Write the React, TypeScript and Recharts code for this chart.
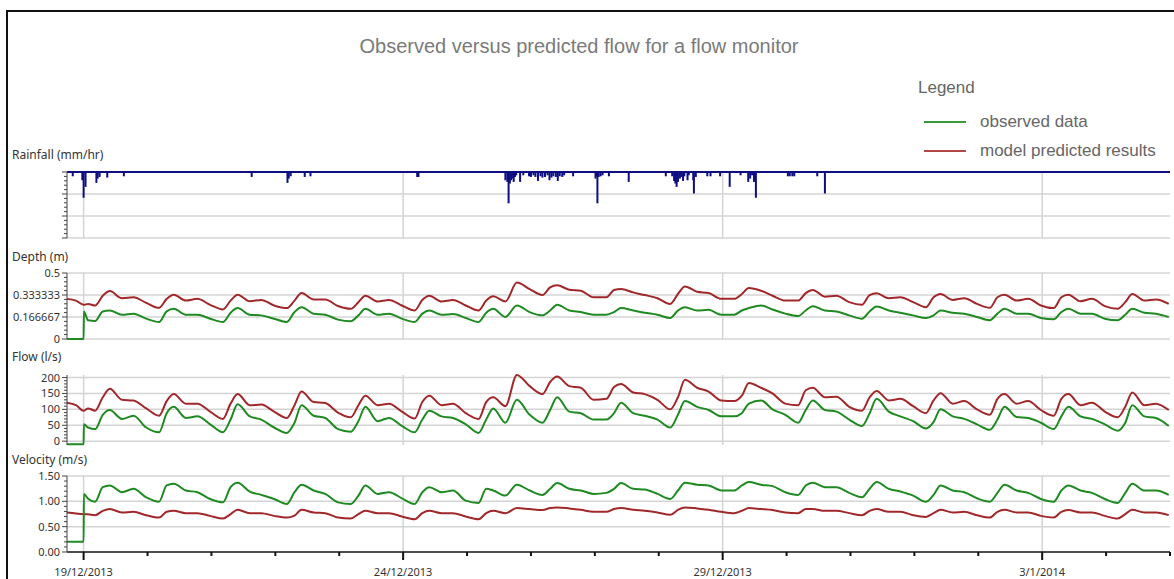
import { Bar, CartesianGrid, ComposedChart, Line, LineChart, ReferenceLine, XAxis, YAxis } from "recharts";

// time in days from 19/12/2013 00:00
const times = [
  -0.26, -0.12, 0, 0.004, 0.07,
  0.18, 0.3, 0.41, 0.6, 0.78, 0.98,
  1.18, 1.3, 1.41, 1.6, 1.78, 1.98,
  2.18, 2.3, 2.41, 2.6, 2.78, 2.98,
  3.18, 3.3, 3.41, 3.6, 3.78, 3.98,
  4.18, 4.3, 4.41, 4.6, 4.78, 4.98,
  5.18, 5.3, 5.41, 5.6, 5.78, 5.98,
  6.18, 6.3, 6.41, 6.6, 6.78, 6.98,
  7.18, 7.3, 7.41, 7.6, 7.78, 7.98,
  8.18, 8.3, 8.41, 8.6, 8.78, 8.98,
  9.18, 9.3, 9.41, 9.6, 9.78, 9.98,
  10.18, 10.3, 10.41, 10.6, 10.78, 10.98,
  11.18, 11.3, 11.41, 11.6, 11.78, 11.98,
  12.18, 12.3, 12.41, 12.6, 12.78, 12.98,
  13.18, 13.3, 13.41, 13.6, 13.78, 13.98,
  14.18, 14.3, 14.41, 14.6, 14.78, 14.98,
  15.18, 15.3, 15.41, 15.6, 15.78, 15.98,
  16.18, 16.3, 16.41, 16.6, 16.78, 16.98,
];

const depthPredicted = [
  0.304, 0.291, 0.259, 0.259, 0.266,
  0.254, 0.328, 0.363, 0.309, 0.316, 0.274,
  0.236, 0.304, 0.336, 0.291, 0.304, 0.259,
  0.224, 0.291, 0.336, 0.286, 0.296, 0.254,
  0.234, 0.291, 0.348, 0.299, 0.299, 0.25,
  0.229, 0.279, 0.328, 0.284, 0.296, 0.254,
  0.216, 0.296, 0.328, 0.284, 0.296, 0.254,
  0.216, 0.291, 0.323, 0.284, 0.428, 0.378,
  0.333, 0.391, 0.408, 0.373, 0.366, 0.316,
  0.316, 0.371, 0.378, 0.353, 0.333, 0.309,
  0.266, 0.341, 0.398, 0.358, 0.348, 0.304,
  0.304, 0.341, 0.386, 0.366, 0.328, 0.291,
  0.291, 0.348, 0.371, 0.321, 0.328, 0.279,
  0.259, 0.333, 0.346, 0.309, 0.316, 0.279,
  0.241, 0.316, 0.341, 0.296, 0.309, 0.266,
  0.236, 0.316, 0.336, 0.291, 0.304, 0.254,
  0.234, 0.316, 0.336, 0.286, 0.304, 0.249,
  0.229, 0.279, 0.341, 0.291, 0.299, 0.266,
];

const depthObserved = [
  0, 0, 0, 0.209, 0.142,
  0.137, 0.209, 0.216, 0.184, 0.192, 0.154,
  0.129, 0.209, 0.229, 0.184, 0.184, 0.154,
  0.129, 0.199, 0.234, 0.184, 0.179, 0.154,
  0.129, 0.204, 0.241, 0.192, 0.184, 0.147,
  0.134, 0.179, 0.229, 0.184, 0.192, 0.154,
  0.129, 0.192, 0.216, 0.184, 0.189, 0.159,
  0.129, 0.199, 0.229, 0.167, 0.254, 0.204,
  0.179, 0.216, 0.259, 0.216, 0.204, 0.184,
  0.184, 0.204, 0.234, 0.216, 0.199, 0.184,
  0.159, 0.216, 0.241, 0.216, 0.221, 0.184,
  0.184, 0.216, 0.234, 0.254, 0.224, 0.192,
  0.174, 0.216, 0.249, 0.216, 0.209, 0.179,
  0.154, 0.209, 0.246, 0.216, 0.199, 0.179,
  0.159, 0.179, 0.216, 0.199, 0.192, 0.167,
  0.142, 0.192, 0.229, 0.192, 0.192, 0.159,
  0.149, 0.204, 0.229, 0.192, 0.192, 0.154,
  0.142, 0.184, 0.229, 0.199, 0.192, 0.167,
];

const flowPredicted = [
  121, 113, 96, 96, 103,
  96, 138, 165, 130, 128, 103,
  80, 126, 148, 118, 118, 93,
  70, 118, 148, 113, 115, 93,
  73, 113, 156, 123, 120, 90,
  75, 113, 143, 113, 118, 93,
  71, 123, 143, 113, 118, 88,
  70, 123, 138, 110, 208, 173,
  148, 186, 203, 173, 168, 130,
  133, 170, 180, 153, 148, 130,
  100, 138, 193, 168, 156, 128,
  126, 143, 183, 168, 150, 118,
  113, 160, 168, 138, 140, 108,
  96, 138, 158, 128, 133, 110,
  88, 128, 151, 118, 126, 100,
  83, 133, 148, 118, 126, 98,
  80, 133, 148, 113, 121, 93,
  75, 108, 153, 113, 118, 98,
];

const flowObserved = [
  -10, -10, -10, 53, 43,
  38, 83, 98, 70, 80, 43,
  28, 88, 108, 73, 78, 53,
  28, 68, 116, 78, 68, 43,
  26, 58, 113, 80, 73, 38,
  30, 63, 108, 63, 73, 48,
  28, 68, 96, 78, 73, 53,
  26, 68, 103, 58, 130, 83,
  58, 98, 138, 93, 88, 68,
  68, 88, 121, 88, 80, 68,
  43, 83, 126, 108, 98, 78,
  78, 88, 118, 128, 100, 83,
  58, 98, 128, 98, 93, 68,
  48, 88, 133, 93, 78, 63,
  40, 60, 100, 78, 70, 53,
  36, 68, 108, 76, 73, 58,
  38, 78, 108, 78, 70, 53,
  33, 58, 113, 78, 73, 48,
];

const velocityPredicted = [
  0.78, 0.76, 0.747, 0.747, 0.745,
  0.727, 0.813, 0.847, 0.78, 0.793, 0.727,
  0.68, 0.793, 0.813, 0.767, 0.767, 0.713,
  0.66, 0.747, 0.833, 0.767, 0.767, 0.713,
  0.68, 0.72, 0.833, 0.78, 0.767, 0.68,
  0.66, 0.747, 0.813, 0.767, 0.767, 0.7,
  0.647, 0.767, 0.813, 0.767, 0.767, 0.7,
  0.647, 0.767, 0.813, 0.767, 0.867, 0.847,
  0.827, 0.867, 0.88, 0.86, 0.833, 0.793,
  0.793, 0.847, 0.867, 0.833, 0.813, 0.78,
  0.733, 0.833, 0.88, 0.86, 0.833, 0.793,
  0.767, 0.813, 0.867, 0.847, 0.827, 0.78,
  0.767, 0.847, 0.847, 0.813, 0.813, 0.767,
  0.727, 0.813, 0.847, 0.793, 0.793, 0.727,
  0.693, 0.767, 0.833, 0.78, 0.793, 0.727,
  0.68, 0.793, 0.833, 0.78, 0.78, 0.713,
  0.68, 0.793, 0.827, 0.78, 0.78, 0.713,
  0.66, 0.747, 0.833, 0.78, 0.78, 0.727,
];

const velocityObserved = [
  0.2, 0.2, 0.2, 1.147, 1.05,
  0.993, 1.28, 1.313, 1.18, 1.247, 1.08,
  0.993, 1.313, 1.347, 1.213, 1.18, 1.047,
  0.98, 1.28, 1.367, 1.193, 1.127, 1.047,
  0.947, 1.18, 1.327, 1.213, 1.147, 0.98,
  0.947, 1.113, 1.313, 1.147, 1.18, 1.06,
  0.947, 1.18, 1.28, 1.18, 1.213, 1.013,
  0.967, 1.247, 1.213, 1.113, 1.327, 1.213,
  1.127, 1.247, 1.36, 1.247, 1.213, 1.147,
  1.167, 1.247, 1.36, 1.247, 1.233, 1.147,
  1.047, 1.213, 1.367, 1.327, 1.313, 1.213,
  1.213, 1.313, 1.38, 1.327, 1.3, 1.18,
  1.127, 1.313, 1.367, 1.28, 1.28, 1.167,
  1.08, 1.247, 1.38, 1.247, 1.193, 1.113,
  0.993, 1.127, 1.313, 1.213, 1.18, 1.06,
  0.993, 1.167, 1.327, 1.213, 1.167, 1.047,
  0.993, 1.213, 1.313, 1.213, 1.167, 1.047,
  0.967, 1.167, 1.347, 1.213, 1.213, 1.127,
];

const rainTimes = [
  -0.17, -0.02, 0, 0.03, 0.2, 0.22, 0.25, 0.37, 0.63,
  2.63, 3.19, 3.21, 3.24, 3.46, 3.55, 5.22, 5.24,
  6.6, 6.63, 6.65, 6.67, 6.69, 6.72, 6.73, 6.75, 6.77, 6.83, 6.88,
  6.97, 7.0, 7.04, 7.07, 7.11, 7.15, 7.18, 7.22, 7.26, 7.29, 7.32, 7.35, 7.39, 7.42, 7.45, 7.49, 7.52,
  7.66,
  8.01, 8.02, 8.04, 8.06, 8.09, 8.12, 8.22, 8.53,
  9.11, 9.21, 9.24, 9.26, 9.28, 9.3, 9.33, 9.35, 9.38, 9.4, 9.45, 9.47, 9.54, 9.55, 9.58,
  9.76, 9.81, 9.96, 10.11, 10.28,
  10.4, 10.43, 10.46, 10.49, 10.52,
  11.02, 11.05, 11.09, 11.12, 11.48, 11.6,
];

const rainfall = [
  1.95, 3.75, 11.7, 6.75, 4.95, 3.0, 2.25, 2.55, 1.95,
  2.25, 4.95, 3.0, 1.95, 2.25, 1.95, 2.25, 2.25,
  3.75, 4.5, 14.25, 5.25, 3.75, 3.0, 4.5, 2.25, 1.5, 4.5, 1.5,
  1.95, 2.25, 1.5, 2.25, 4.05, 1.95, 2.55, 2.25, 1.5, 3.75, 2.55, 1.95, 2.25, 4.05, 1.95, 2.25, 1.5,
  1.95,
  3.0, 1.95, 14.25, 2.25, 1.95, 1.5, 1.95, 4.5,
  1.95, 1.95, 4.05, 5.25, 6.75, 4.5, 3.0, 2.25, 4.05, 1.95, 3.75, 1.5, 3.75, 9.75, 2.25,
  1.95, 1.95, 1.95, 6.75, 1.5,
  4.5, 3.0, 1.5, 4.5, 11.7,
  1.95, 1.95, 1.95, 1.95, 1.95, 9.75,
];

const dateTicks = [0, 5, 10, 15];
const dateLabels = ["19/12/2013", "24/12/2013", "29/12/2013", "3/1/2014"];
const dayTicks = [0, 1, 2, 3, 4, 5, 6, 7, 8, 9, 10, 11, 12, 13, 14, 15, 16, 17];

const rainTicks = [0, 10, 20, 30];
const depthTicks = [0, 0.166667, 0.333333, 0.5];
const depthLabels = ["0", "0.166667", "0.333333", "0.5"];
const flowTicks = [0, 50, 100, 150, 200];
const flowLabels = ["0", "50", "100", "150", "200"];
const velocityTicks = [0, 0.5, 1, 1.5];
const velocityLabels = ["0.00", "0.50", "1.00", "1.50"];

const X_DOMAIN: [number, number] = [-0.26, 17];
const GREEN = "#1f8a22";
const RED = "#a0282b";
const NAVY = "#0e0e82";
const GRID = "#d4d4d4";
const AXIS = "#444";
const FONT = "'Noto Sans', sans-serif";

const rows = times.map((t, i) => ({
  t,
  depthObs: depthObserved[i],
  depthPred: depthPredicted[i],
  flowObs: flowObserved[i],
  flowPred: flowPredicted[i],
  velObs: velocityObserved[i],
  velPred: velocityPredicted[i],
}));

const rainRows = rainTimes.map((t, i) => ({ t, rain: rainfall[i] }));

function withMinor(major: number[], parts: number) {
  const out: number[] = [];
  for (let i = 0; i < major.length - 1; i++) {
    const step = (major[i + 1] - major[i]) / parts;
    for (let k = 0; k < parts; k++) out.push(major[i] + k * step);
  }
  out.push(major[major.length - 1]);
  return out;
}

function makeYTick(majors: number[], labels: string[] | null) {
  return (props: any) => {
    const { x, y, payload } = props;
    const i = majors.findIndex((m) => Math.abs(m - payload.value) < 1e-6);
    const major = i >= 0;
    return (
      <g>
        <line x1={x} x2={x - (major ? 5 : 3)} y1={y} y2={y} stroke={AXIS} />
        {major && labels ? (
          <text x={x - 7} y={y} dy={4} textAnchor="end" fontSize={11} fontFamily={FONT} fill="#333">
            {labels[i]}
          </text>
        ) : null}
      </g>
    );
  };
}

function DateTick(props: any) {
  const { x, y, payload } = props;
  const i = dateTicks.indexOf(payload.value);
  const major = i >= 0;
  return (
    <g>
      <line x1={x} x2={x} y1={y} y2={y + (major ? 8 : 4)} stroke="#111" strokeWidth={2} />
      {major ? (
        <text x={x} y={y + 24} textAnchor="middle" fontSize={11} fontFamily={FONT} fill="#333">
          {dateLabels[i]}
        </text>
      ) : null}
    </g>
  );
}

// rain bars keep a fixed 2px width, centred on their time
function RainBar(props: any) {
  const { x, y, width, height } = props;
  if (x == null || y == null) return null;
  const cx = x + (width || 0) / 2;
  const top = Math.min(y, y + height);
  const h = Math.abs(height);
  return <rect x={cx - 1} y={top} width={2} height={h} fill={NAVY} />;
}

type PanelProps = {
  top: number;
  plotHeight: number;
  domain: [number, number];
  majors: number[];
  labels: string[];
  gridValues: number[];
  obsKey: string;
  predKey: string;
  withDates?: boolean;
};

function SeriesPanel(p: PanelProps) {
  const height = p.plotHeight + 10 + (p.withDates ? 30 : 10);
  return (
    <div style={{ position: "absolute", left: 0, top: p.top - 10 }}>
      <LineChart
        width={1174}
        height={height}
        data={rows}
        margin={{ top: 10, right: 4, bottom: p.withDates ? 0 : 10, left: 0 }}
      >
        <CartesianGrid stroke={GRID} strokeWidth={1.5} horizontalValues={p.gridValues} verticalValues={dateTicks} />
        <XAxis
          type="number"
          dataKey="t"
          domain={X_DOMAIN}
          hide={!p.withDates}
          ticks={dayTicks}
          interval={0}
          tickSize={0}
          tickMargin={0}
          tick={DateTick}
          axisLine={{ stroke: "#111", strokeWidth: 1.5 }}
          height={30}
        />
        <YAxis
          type="number"
          domain={p.domain}
          ticks={withMinor(p.majors, 5)}
          interval={0}
          width={67}
          tickSize={0}
          tickMargin={0}
          tick={makeYTick(p.majors, p.labels)}
          axisLine={{ stroke: AXIS }}
        />
        <Line type="monotone" dataKey={p.predKey} stroke={RED} strokeWidth={2} dot={false} isAnimationActive={false} />
        <Line type="monotone" dataKey={p.obsKey} stroke={GREEN} strokeWidth={2} dot={false} isAnimationActive={false} />
      </LineChart>
    </div>
  );
}

function RainPanel() {
  return (
    <div style={{ position: "absolute", left: 0, top: 162 }}>
      <ComposedChart width={1174} height={86} data={rainRows} margin={{ top: 10, right: 4, bottom: 10, left: 0 }}>
        <CartesianGrid stroke={GRID} strokeWidth={1.5} horizontalValues={[10, 20, 30]} verticalValues={dateTicks} />
        <XAxis type="number" dataKey="t" domain={X_DOMAIN} hide />
        <YAxis
          type="number"
          reversed
          domain={[0, 30]}
          ticks={withMinor(rainTicks, 5)}
          interval={0}
          width={67}
          tickSize={0}
          tickMargin={0}
          tick={makeYTick(rainTicks, null)}
          axisLine={{ stroke: AXIS }}
        />
        <Bar dataKey="rain" fill={NAVY} shape={RainBar} isAnimationActive={false} />
        <ReferenceLine y={0} stroke={NAVY} strokeWidth={2} />
      </ComposedChart>
    </div>
  );
}

const labelStyle: React.CSSProperties = {
  position: "absolute",
  left: 12,
  fontSize: 12,
  lineHeight: "16px",
  color: "#333",
  fontFamily: FONT,
  whiteSpace: "nowrap",
};

const legendText: React.CSSProperties = {
  position: "absolute",
  fontFamily: "'Liberation Sans', Arial, sans-serif",
  fontSize: 17,
  lineHeight: "20px",
  color: "#666",
  whiteSpace: "nowrap",
};

export default function App() {
  return (
    <div
      style={{
        position: "absolute",
        left: 0,
        top: 0,
        width: 1174,
        height: 579,
        background: "#fff",
        overflow: "hidden",
      }}
    >
      <div
        style={{
          position: "absolute",
          left: 6,
          top: 10,
          width: 1168,
          height: 569,
          borderTop: "2px solid #111",
          borderLeft: "2px solid #111",
        }}
      />
      <div
        style={{
          position: "absolute",
          left: 0,
          top: 34,
          width: 1158,
          textAlign: "center",
          fontFamily: "'Liberation Sans', Arial, sans-serif",
          fontSize: 20,
          lineHeight: "24px",
          color: "#7a7a7a",
        }}
      >
        Observed versus predicted flow for a flow monitor
      </div>

      <div style={{ ...legendText, left: 918, top: 78 }}>Legend</div>
      <div style={{ position: "absolute", left: 924, top: 121, width: 42, height: 2, background: "#3a9a3a" }} />
      <div style={{ position: "absolute", left: 924, top: 150, width: 42, height: 2, background: "#b24747" }} />
      <div style={{ ...legendText, left: 980, top: 112 }}>observed data</div>
      <div style={{ ...legendText, left: 980, top: 141 }}>model predicted results</div>

      <div style={{ ...labelStyle, top: 147 }}>Rainfall (mm/hr)</div>
      <div style={{ ...labelStyle, top: 249 }}>Depth (m)</div>
      <div style={{ ...labelStyle, top: 349 }}>Flow (l/s)</div>
      <div style={{ ...labelStyle, top: 452 }}>Velocity (m/s)</div>

      <RainPanel />
      <SeriesPanel
        top={273}
        plotHeight={66}
        domain={[0, 0.5]}
        majors={depthTicks}
        labels={depthLabels}
        gridValues={depthTicks}
        obsKey="depthObs"
        predKey="depthPred"
      />
      <SeriesPanel
        top={375}
        plotHeight={70}
        domain={[-12, 200]}
        majors={flowTicks}
        labels={flowLabels}
        gridValues={flowTicks}
        obsKey="flowObs"
        predKey="flowPred"
      />
      <SeriesPanel
        top={476}
        plotHeight={76}
        domain={[0, 1.5]}
        majors={velocityTicks}
        labels={velocityLabels}
        gridValues={[0.5, 1, 1.5]}
        obsKey="velObs"
        predKey="velPred"
        withDates
      />
    </div>
  );
}
